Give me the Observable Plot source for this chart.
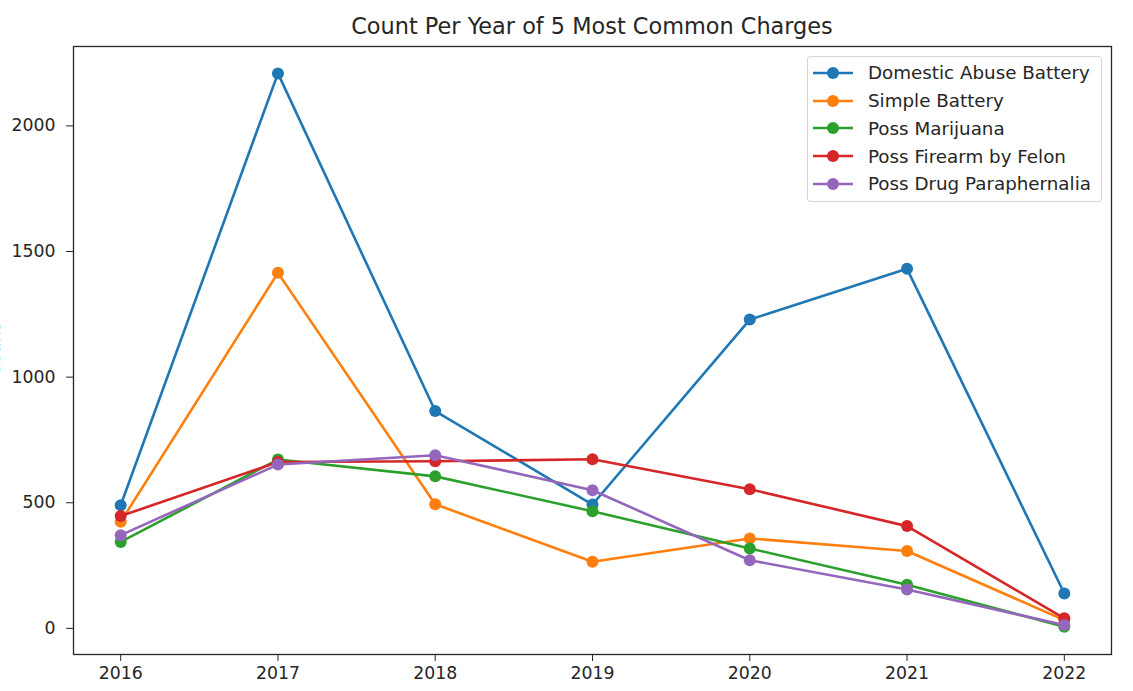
<!DOCTYPE html>
<html>
<head>
<meta charset="utf-8">
<script src="https://cdn.jsdelivr.net/npm/d3@7"></script>
<script src="https://cdn.jsdelivr.net/npm/@observablehq/plot@0.6"></script>
<style>
  html, body { margin: 0; padding: 0; background: #fff; }
  #wrap { position: relative; width: 1133px; height: 691px; overflow: hidden; font-family: "DejaVu Sans", sans-serif; color: #262626; }
  #title { box-sizing: border-box; height: 36px; padding: 16px 22px 0 73px; line-height: 20px; font-size: 22.4px; text-align: center; white-space: nowrap; }
  #legend { position: absolute; left: 807px; top: 56px; width: 295px; height: 146px; box-sizing: border-box;
            border: 1px solid rgba(204,204,204,0.8); border-radius: 4px; background: rgba(255,255,255,0.8); padding-top: 2px; }
  .row { height: 27.75px; display: flex; align-items: center; font-size: 18.3px; white-space: nowrap; }
  .row svg { margin-left: 5px; margin-right: 15px; flex: none; }
</style>
</head>
<body>
<div id="wrap">
  <div id="title"></div>
  <div id="chart"></div>
  <div id="legend"></div>
</div>
<script>
const titleText = "Count Per Year of 5 Most Common Charges";
const years = [2016, 2017, 2018, 2019, 2020, 2021, 2022];
const seriesNames = ["Domestic Abuse Battery", "Simple Battery", "Poss Marijuana", "Poss Firearm by Felon", "Poss Drug Paraphernalia"];
const domesticAbuseBattery = [490, 2209, 865, 493, 1229, 1431, 139];
const simpleBattery = [424, 1415, 494, 265, 358, 308, 33];
const possMarijuana = [344, 672, 605, 466, 318, 174, 6];
const possFirearmByFelon = [447, 662, 665, 673, 554, 407, 40];
const possDrugParaphernalia = [371, 652, 689, 550, 271, 155, 13];
const yTicks = [0, 500, 1000, 1500, 2000];
const colors = ["#1f77b4", "#ff7f0e", "#2ca02c", "#d62728", "#9467bd"];

const seriesValues = [domesticAbuseBattery, simpleBattery, possMarijuana, possFirearmByFelon, possDrugParaphernalia];
const seriesRows = seriesNames.map((name, i) => years.map((yr, j) => ({series: name, year: yr, count: seriesValues[i][j]})));

document.getElementById("title").textContent = titleText;

const marks = [
  Plot.frame({stroke: "#262626", strokeWidth: 1.3}),
  Plot.axisX({ticks: years, tickFormat: "d", tickSize: 7, tickPadding: 5, label: null}),
  Plot.axisY({ticks: yTicks, tickFormat: "d", tickSize: 7, tickPadding: 11, label: "Count", labelAnchor: "center", labelOffset: 85.5, labelArrow: "none"})
];
seriesRows.forEach(rows => {
  marks.push(Plot.line(rows, {x: "year", y: "count", stroke: "series", strokeWidth: 2.6}));
  marks.push(Plot.dot(rows, {x: "year", y: "count", fill: "series", r: 6, stroke: null}));
});

const chart = Plot.plot({
  width: 1133,
  height: 655,
  marginTop: 10,
  marginBottom: 37,
  marginLeft: 73,
  marginRight: 22,
  style: {fontSize: "17.3px", fontFamily: "DejaVu Sans", color: "#262626", background: "transparent", overflow: "visible"},
  x: {type: "linear", domain: [2015.7, 2022.3]},
  y: {domain: [-104, 2316]},
  color: {domain: seriesNames, range: colors},
  marks
});
document.getElementById("chart").appendChild(chart);

const legend = document.getElementById("legend");
seriesNames.forEach((name, i) => {
  const row = document.createElement("div");
  row.className = "row";
  row.innerHTML = `<svg width="40" height="14"><line x1="0" y1="7" x2="40" y2="7" stroke="${colors[i]}" stroke-width="2.6"/><circle cx="20" cy="7" r="6" fill="${colors[i]}"/></svg><span>${name}</span>`;
  legend.appendChild(row);
});
</script>
</body>
</html>
